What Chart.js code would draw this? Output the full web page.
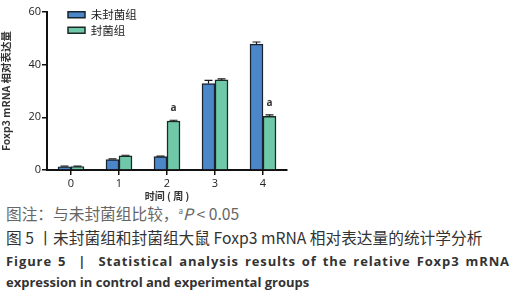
<!DOCTYPE html>
<html>
<head>
<meta charset="utf-8">
<script src="https://cdn.jsdelivr.net/npm/chart.js@4/dist/chart.umd.min.js"></script>
<style>
  html, body { margin: 0; padding: 0; background: #fff; }
  #wrap { position: relative; width: 519px; height: 300px; overflow: hidden; }
  #box { position: absolute; left: 0; top: 0; width: 519px; height: 202px; }
  .cap { position: absolute; left: 6px; white-space: nowrap; font-family: "Noto Sans CJK SC", "Noto Sans", sans-serif; }
  #note { top: 202px; font-size: 15.7px; color: #666; }
  #cn { top: 226px; font-size: 15.7px; color: #333; }
  .en { font-family: "Open Sans", "Noto Sans", sans-serif; font-weight: bold; font-size: 13px; color: #333; }
  #en1 { top: 252px; width: 504px; text-align: justify; text-align-last: justify; letter-spacing: 0.9px; }
  #en2 { top: 273px; }
</style>
</head>
<body>
<div id="wrap">
  <div id="box"><canvas id="chart"></canvas></div>
  <div class="cap" id="note">图注：与未封菌组比较，<sup style="font-size:8px">a</sup><i>P</i> &lt; 0.05</div>
  <div class="cap" id="cn">图 5 丨未封菌组和封菌组大鼠 Foxp3 mRNA 相对表达量的统计学分析</div>
  <div class="cap en" id="en1">Figure 5 &nbsp;| &nbsp;Statistical analysis results of the relative Foxp3 mRNA</div>
  <div class="cap en" id="en2">expression in control and experimental groups</div>
</div>
<script>
// 数据
var weeks = ['0', '1', '2', '3', '4'];
var unsealed = [1.2, 4.0, 5.1, 32.8, 47.8];
var unsealedErr = [0.3, 0.2, 0.2, 1.2, 0.8];
var sealed = [1.3, 5.4, 18.6, 34.2, 20.4];
var sealedErr = [0.2, 0.2, 0.3, 0.4, 0.5];
var sealedMark = ['', '', 'a', '', 'a'];
var yTicks = [0, 20, 40, 60];

// 误差线和显著性标记
var errorBars = {
  id: 'errorBars',
  afterLayout: function(chart) {
    // 图例往右下挪一点
    var lg = chart.legend;
    lg.left += 17; lg.right += 17;
    lg.top += 5; lg.bottom += 5;
  },
  afterDatasetsDraw: function(chart) {
    var ctx = chart.ctx;
    var y = chart.scales.y;
    var errs = [unsealedErr, sealedErr];
    ctx.save();
    ctx.strokeStyle = '#1a1a1a';
    ctx.lineWidth = 1.2;
    errs.forEach(function(err, di) {
      var meta = chart.getDatasetMeta(di);
      meta.data.forEach(function(bar, i) {
        var v = chart.data.datasets[di].data[i];
        var top = y.getPixelForValue(v + err[i]);
        ctx.beginPath();
        ctx.moveTo(bar.x, bar.y);
        ctx.lineTo(bar.x, top);
        ctx.moveTo(bar.x - 4, top);
        ctx.lineTo(bar.x + 4, top);
        ctx.stroke();
      });
    });
    var meta = chart.getDatasetMeta(1);
    ctx.fillStyle = '#333';
    ctx.font = 'bold 10px "Open Sans", sans-serif';
    ctx.textAlign = 'center';
    ctx.textBaseline = 'bottom';
    meta.data.forEach(function(bar, i) {
      if (sealedMark[i]) {
        var top = y.getPixelForValue(sealed[i] + sealedErr[i]);
        ctx.fillText(sealedMark[i], bar.x, top - 7);
      }
    });
    ctx.restore();
  }
};

new Chart(document.getElementById('chart'), {
  type: 'bar',
  data: {
    labels: weeks,
    datasets: [{
      label: '未封菌组',
      data: unsealed,
      backgroundColor: '#4a86c8',
      borderColor: '#1a2430',
      borderWidth: 1.5,
      barThickness: 13,
      categoryPercentage: 0.75
    }, {
      label: '封菌组',
      data: sealed,
      backgroundColor: '#6fc8a8',
      borderColor: '#1a2a24',
      borderWidth: 1.5,
      barThickness: 13,
      categoryPercentage: 0.75
    }]
  },
  options: {
    responsive: true,
    maintainAspectRatio: false,
    animation: false,
    layout: { padding: { top: 12, right: 232, left: 0, bottom: 0 } },
    plugins: {
      legend: {
        position: 'chartArea',
        align: 'start',
        labels: {
          boxWidth: 17,
          boxHeight: 6,
          padding: 4,
          color: '#222',
          font: { size: 11.5, family: '"Noto Sans CJK SC", sans-serif' }
        }
      },
      tooltip: { enabled: false }
    },
    scales: {
      x: {
        grid: { drawOnChartArea: false, drawTicks: true, tickLength: 5, color: '#111', lineWidth: 1.5, offset: false },
        border: { color: '#111', width: 2 },
        ticks: { color: '#222', padding: 2, font: { size: 11, family: '"Open Sans", sans-serif' } },
        title: {
          display: true,
          text: '时间 ( 周 )',
          color: '#333',
          padding: { top: 0, bottom: 0 },
          font: { size: 10, weight: 'bold', family: '"Noto Sans CJK SC", sans-serif' }
        },
        afterFit: function(s) { s.height = 32; }
      },
      y: {
        min: 0,
        max: 60,
        afterBuildTicks: function(s) { s.ticks = yTicks.map(function(v) { return { value: v }; }); },
        grid: { drawOnChartArea: false, drawTicks: true, tickLength: 5, color: '#111', lineWidth: 1.5 },
        border: { color: '#111', width: 2 },
        ticks: { color: '#222', padding: 1, font: { size: 11, family: '"Open Sans", sans-serif' } },
        title: {
          display: true,
          text: 'Foxp3 mRNA 相对表达量',
          color: '#333',
          padding: { top: 0, bottom: 5 },
          font: { size: 10.5, weight: 'bold', family: '"Noto Sans CJK SC", sans-serif' }
        },
        afterFit: function(s) { s.width = 47; }
      }
    }
  },
  plugins: [errorBars]
});
</script>
</body>
</html>
